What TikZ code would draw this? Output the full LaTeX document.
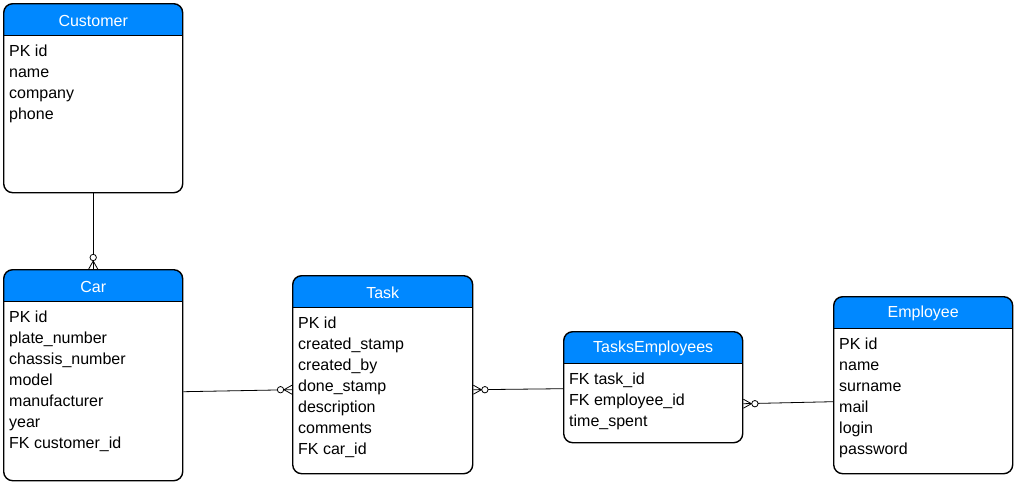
\documentclass[tikz,border=0pt]{standalone}
\usepackage{fontspec}
\setmainfont{Liberation Sans}
\definecolor{hdr}{RGB}{0,136,255}
\tikzset{
  x=1pt, y=-1pt,
  entbox/.style={draw, line width=1.4pt, rounded corners=9pt, inner sep=0pt,
    path picture={
      \fill[hdr, sharp corners] (path picture bounding box.north west) rectangle ([yshift=-32pt]path picture bounding box.north east);
      \draw[line width=1.4pt, sharp corners] ([yshift=-32pt]path picture bounding box.north west) -- ([yshift=-32pt]path picture bounding box.north east);
    }},
  enttitle/.style={text=white, font=\fontsize{16}{19}\selectfont, inner sep=0pt},
  entrow/.style={font=\fontsize{16}{19}\selectfont, inner sep=0pt, anchor=base west},
  conn/.style={line width=0.8pt},
  zm/.pic={
    \draw[line width=0.8pt] (-8,0) -- (0,4.5) (-8,0) -- (0,-4.5);
    \draw[line width=0.8pt, fill=white] (-11.5,0) circle[radius=3.2];
  }
}
\newcommand\entity[7]{%
  \node[entbox, minimum width=#4pt, minimum height=#5pt, anchor=north west] (#1) at (#2,#3) {};
  \node[enttitle] (#1-t) at ([yshift=-17.5pt]#1.north) {#6};
  \foreach \l [count=\i] in {#7} {
    \node[entrow] (#1-\i) at ([xshift=6pt, yshift={-32pt-21pt*\i}]#1.north west) {\l};
  }
}
\begin{document}
\begin{tikzpicture}
\useasboundingbox (0,0) rectangle (1014,485);
\entity{cust}{3}{3}{179}{189}{Customer}{PK id,name,company,phone}
\entity{car}{3}{269}{179}{211}{Car}{PK id,plate\_number,chassis\_number,model,manufacturer,year,FK customer\_id}
\entity{task}{292}{275}{180}{198}{Task}{PK id,created\_stamp,created\_by,done\_stamp,description,comments,FK car\_id}
\entity{te}{563}{331}{179}{111}{TasksEmployees}{FK task\_id,FK employee\_id,time\_spent}
\entity{emp}{833}{296}{179}{177}{Employee}{PK id,name,surname,mail,login,password}
% connectors
\draw[conn] (cust.south) -- (car.north);
\pic[rotate=-90] at (car.north) {zm};
\draw[conn] ([yshift=-16.5pt]car.east) -- ([yshift=-15pt]task.west);
\pic at ([yshift=-15pt]task.west) {zm};
\draw[conn] ([yshift=-1.5pt]te.west) -- ([yshift=-15pt]task.east);
\pic[rotate=180] at ([yshift=-15pt]task.east) {zm};
\draw[conn] ([yshift=-16.5pt]emp.west) -- ([yshift=-16.5pt]te.east);
\pic[rotate=180] at ([yshift=-16.5pt]te.east) {zm};
\end{tikzpicture}
\end{document}
